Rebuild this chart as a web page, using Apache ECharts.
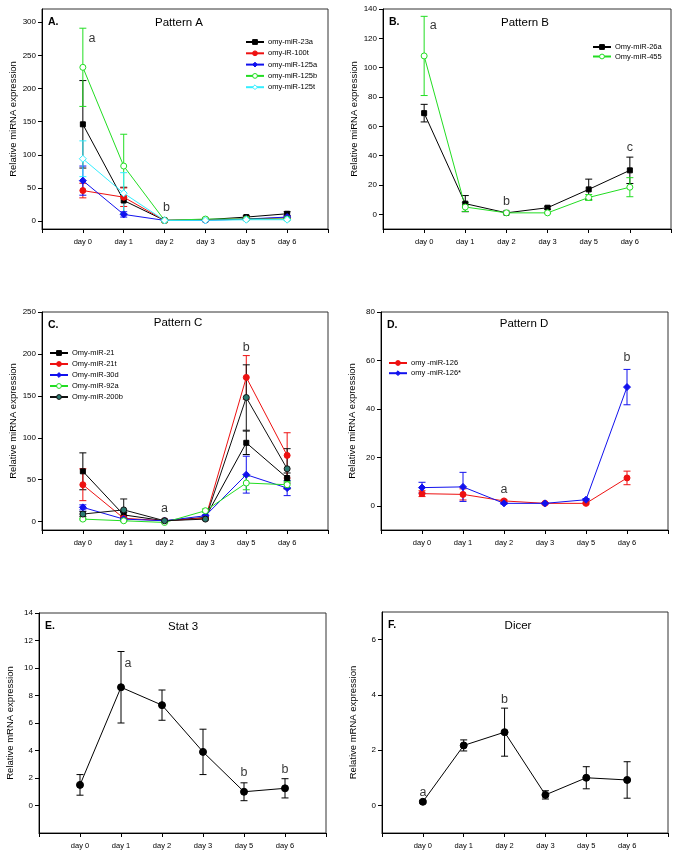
<!DOCTYPE html>
<html>
<head>
<meta charset="utf-8">
<script src="https://cdn.jsdelivr.net/npm/echarts@6/dist/echarts.min.js"></script>
<style>
  html, body { margin: 0; padding: 0; background: #fff; }
  #chart { width: 685px; height: 861px; }
</style>
</head>
<body>
<div id="chart"></div>
<script>
// categories
var days = ['day 0', 'day 1', 'day 2', 'day 3', 'day 5', 'day 6'];

// Pattern A
var a23a = [146, 31, 1, 2, 6, 11];      var a23aErr = [66, 20, 0.5, 0.5, 2, 3];
var a100t = [46, 36, 1, 2, 3, 5];       var a100tErr = [11, 14, 0.5, 0.5, 1, 1];
var a125a = [61, 10, 1, 1, 3, 6];       var a125aErr = [22, 4, 0.5, 0.5, 1, 2];
var a125b = [232, 83, 1, 3, 3, 3];      var a125bErr = [59, 48, 0.5, 1, 1, 1];
var a125t = [94, 42, 1, 1, 2, 2];       var a125tErr = [27, 31, 0.5, 0.5, 1, 1];
var aTicks = [0, 50, 100, 150, 200, 250, 300];
var aNotes = [['day 0', 275, 'a', 9], ['day 2', 21, 'b', 2]];

// Pattern B
var b26a = [69, 7.3, 1, 4.5, 17, 30];   var b26aErr = [6, 5.5, 0.3, 1, 7, 9];
var b455 = [108, 5, 1, 1, 11.5, 18.5];  var b455Err = [27, 3, 0.3, 0.5, 2, 6.5];
var bTicks = [0, 20, 40, 60, 80, 100, 120, 140];
var bNotes = [['day 0', 129, 'a', 9], ['day 2', 8.5, 'b', 0], ['day 6', 45.7, 'c', 0]];

// Pattern C
var c21 = [60, 8, 1, 5, 94, 52];        var c21Err = [22, 3, 0.5, 1, 14, 6];
var c21t = [44, 4, 1, 4, 172, 79];      var c21tErr = [19, 2, 0.5, 1, 26, 27];
var c30d = [17, 3, 1, 7, 56, 40];       var c30dErr = [3, 1, 0.5, 1, 22, 9];
var c92a = [3, 1, -1, 13, 46, 44];      var c92aErr = [1, 1, 0.5, 2, 8, 4];
var c200b = [9, 14, 1, 3, 148, 63];     var c200bErr = [3, 13, 0.5, 1, 39, 24];
var cTicks = [0, 50, 100, 150, 200, 250];
var cNotes = [['day 2', 15.5, 'a', 0], ['day 5', 208, 'b', 0]];

// Pattern D
var d126 = [5, 4.7, 2, 1, 1, 11.5];     var d126Err = [1.2, 2.3, 0.5, 0.3, 0.3, 2.8];
var d126s = [7.5, 7.8, 1, 1, 2.5, 49];  var d126sErr = [2.2, 6, 0.3, 0.3, 0.5, 7.3];
var dTicks = [0, 20, 40, 60, 80];
var dNotes = [['day 2', 6.5, 'a', 0], ['day 6', 61, 'b', 0]];

// Stat 3
var stat3 = [1.5, 8.6, 7.3, 3.9, 1.0, 1.25];  var stat3Err = [0.75, 2.6, 1.1, 1.65, 0.65, 0.7];
var eTicks = [0, 2, 4, 6, 8, 10, 12, 14];
var eNotes = [['day 1', 10.3, 'a', 7], ['day 5', 2.4, 'b', 0], ['day 6', 2.6, 'b', 0]];

// Dicer
var dicer = [0.13, 2.17, 2.65, 0.38, 1.0, 0.92];  var dicerErr = [0.05, 0.2, 0.87, 0.15, 0.4, 0.66];
var fTicks = [0, 2, 4, 6];
var fNotes = [['day 0', 0.48, 'a', 0], ['day 2', 3.84, 'b', 0]];

var FONT = '"Liberation Sans", Arial, Helvetica, sans-serif';
var axisCats = [' '].concat(days).concat(['  ']);

var option = {
    animation: false,
    backgroundColor: '#fff',
    grid: [], xAxis: [], yAxis: [], series: [], legend: [], graphic: []
};

function errRender(params, api) {
    var x = api.value(0);
    var top = api.coord([x, api.value(2)]);
    var bot = api.coord([x, api.value(1)]);
    var w = 3.5;
    var st = { stroke: api.visual('color'), lineWidth: 1 };
    return {
        type: 'group',
        children: [
            { type: 'line', shape: { x1: top[0], y1: top[1], x2: bot[0], y2: bot[1] }, style: st },
            { type: 'line', shape: { x1: top[0] - w, y1: top[1], x2: top[0] + w, y2: top[1] }, style: st },
            { type: 'line', shape: { x1: bot[0] - w, y1: bot[1], x2: bot[0] + w, y2: bot[1] }, style: st }
        ]
    };
}

function addPanel(p) {
    var gi = option.grid.length;
    option.grid.push({
        left: p.box[0], top: p.box[1], width: p.box[2], height: p.box[3],
        show: true, borderColor: '#333', borderWidth: 1, backgroundColor: 'transparent'
    });
    option.xAxis.push({
        type: 'category', gridIndex: gi, data: axisCats, boundaryGap: false,
        axisLine: { onZero: false, lineStyle: { color: '#000', width: 1 } },
        axisTick: { length: 4, lineStyle: { color: '#000' } },
        axisLabel: { interval: 0, color: '#000', fontSize: 7.5, fontFamily: FONT, margin: 9 },
        splitLine: { show: false }
    });
    option.yAxis.push({
        type: 'value', gridIndex: gi, min: p.yMin, max: p.yMax,
        name: p.yName, nameLocation: 'middle', nameRotate: 90, nameGap: 24,
        nameTextStyle: { color: '#000', fontSize: 9.5, fontFamily: FONT },
        axisLine: { show: true, lineStyle: { color: '#000', width: 1 } },
        axisTick: { show: true, length: 4, customValues: p.ticks, lineStyle: { color: '#000' } },
        axisLabel: { color: '#000', fontSize: 8, fontFamily: FONT, margin: 6, customValues: p.ticks },
        splitLine: { show: false }
    });
    p.lines.forEach(function (s) {
        option.series.push({
            type: 'custom', xAxisIndex: gi, yAxisIndex: gi, name: s.name + ' err',
            renderItem: errRender, itemStyle: { color: s.color }, z: 2,
            encode: { x: 0, y: [1, 2] },
            data: days.map(function (d, i) { return [d, s.v[i] - s.e[i], s.v[i] + s.e[i]]; })
        });
    });
    p.lines.forEach(function (s) {
        var item = { color: s.fill || s.color, borderWidth: 1, borderColor: s.border || s.color };
        option.series.push({
            type: 'line', xAxisIndex: gi, yAxisIndex: gi, name: s.name, z: 3,
            symbol: s.symbol, symbolSize: s.size || 6, showAllSymbol: true,
            lineStyle: { color: s.color, width: 1 },
            itemStyle: item,
            data: days.map(function (d, i) { return [d, s.v[i]]; })
        });
    });
    option.series.push({
        type: 'scatter', xAxisIndex: gi, yAxisIndex: gi, symbolSize: 1, silent: true,
        itemStyle: { color: 'transparent' }, z: 5,
        label: {
            show: true, position: 'inside', color: '#000', fontSize: 12.5, fontFamily: FONT,
            formatter: '{b}'
        },
        data: p.notes.map(function (n) {
            return { name: n[2], value: [n[0], n[1]], label: { offset: [n[3], 0] } };
        })
    });
    if (p.legend) {
        option.legend.push({
            data: p.lines.map(function (s) {
                return { name: s.name, itemStyle: { borderWidth: 1 } };
            }),
            orient: 'vertical', left: p.legend[0], top: p.legend[1],
            itemWidth: 18, itemHeight: 6, itemGap: p.legend[2] + 1, padding: 0,
            textStyle: { fontSize: 7.5, fontFamily: FONT, color: '#000', padding: [0, 0, 0, -1] },
            selectedMode: false
        });
    }
    option.graphic.push({
        type: 'text', left: p.box[0] + 6, top: p.box[1] + 8,
        style: { text: p.tag, font: 'bold 10.5px ' + FONT, fill: '#000' }
    });
    option.graphic.push({
        type: 'text', x: p.title[0], y: p.title[1],
        style: { text: p.title[2], font: '11.5px ' + FONT, fill: '#000', textAlign: 'center', textVerticalAlign: 'middle' }
    });
}

addPanel({
    box: [42, 9, 286, 220], yMin: -12, yMax: 320, ticks: aTicks, yName: 'Relative miRNA expression',
    tag: 'A.', title: [179, 23, 'Pattern A'], notes: aNotes, legend: [245, 38, 2.3],
    lines: [
        { name: 'omy-miR-23a', v: a23a, e: a23aErr, color: '#000', symbol: 'rect', size: 5 },
        { name: 'omy-iR-100t', v: a100t, e: a100tErr, color: '#ee1111', symbol: 'circle' },
        { name: 'omy-miR-125a', v: a125a, e: a125aErr, color: '#1111ee', symbol: 'diamond', size: 7 },
        { name: 'omy-miR-125b', v: a125b, e: a125bErr, color: '#22dd22', symbol: 'circle', fill: '#fff' },
        { name: 'omy-miR-125t', v: a125t, e: a125tErr, color: '#33eeff', symbol: 'diamond', size: 7, fill: '#fff' }
    ]
});

addPanel({
    box: [383, 9, 288, 220], yMin: -10, yMax: 140, ticks: bTicks, yName: 'Relative miRNA expression',
    tag: 'B.', title: [525, 23, 'Pattern B'], notes: bNotes, legend: [592, 43, 0.5],
    lines: [
        { name: 'Omy-miR-26a', v: b26a, e: b26aErr, color: '#000', symbol: 'rect', size: 5 },
        { name: 'Omy-miR-455', v: b455, e: b455Err, color: '#22dd22', symbol: 'circle', fill: '#fff' }
    ]
});

addPanel({
    box: [42, 312, 286, 218], yMin: -10, yMax: 250, ticks: cTicks, yName: 'Relative miRNA expression',
    tag: 'C.', title: [178, 323, 'Pattern C'], notes: cNotes, legend: [49, 349, 2],
    lines: [
        { name: 'Omy-miR-21', v: c21, e: c21Err, color: '#000', symbol: 'rect', size: 5 },
        { name: 'Omy-miR-21t', v: c21t, e: c21tErr, color: '#ee1111', symbol: 'circle' },
        { name: 'Omy-miR-30d', v: c30d, e: c30dErr, color: '#1111ee', symbol: 'diamond', size: 7 },
        { name: 'Omy-miR-92a', v: c92a, e: c92aErr, color: '#22dd22', symbol: 'circle', fill: '#fff' },
        { name: 'Omy-miR-200b', v: c200b, e: c200bErr, color: '#111', symbol: 'circle', fill: '#2a7a70', border: '#111' }
    ]
});

addPanel({
    box: [381, 312, 287, 218], yMin: -10, yMax: 80, ticks: dTicks, yName: 'Relative miRNA expression',
    tag: 'D.', title: [524, 324, 'Pattern D'], notes: dNotes, legend: [388, 359, 1.2],
    lines: [
        { name: 'omy -miR-126', v: d126, e: d126Err, color: '#ee1111', symbol: 'circle' },
        { name: 'omy -miR-126*', v: d126s, e: d126sErr, color: '#1111ee', symbol: 'diamond', size: 7 }
    ]
});

addPanel({
    box: [39, 613, 287, 220], yMin: -2, yMax: 14, ticks: eTicks, yName: 'Relative mRNA expression',
    tag: 'E.', title: [183, 627, 'Stat 3'], notes: eNotes,
    lines: [
        { name: 'Stat 3', v: stat3, e: stat3Err, color: '#000', symbol: 'circle', size: 7 }
    ]
});

addPanel({
    box: [382, 612, 286, 221], yMin: -1, yMax: 7, ticks: fTicks, yName: 'Relative mRNA expression',
    tag: 'F.', title: [518, 626, 'Dicer'], notes: fNotes,
    lines: [
        { name: 'Dicer', v: dicer, e: dicerErr, color: '#000', symbol: 'circle', size: 7 }
    ]
});

var chart = echarts.init(document.getElementById('chart'), null, { renderer: 'canvas' });
chart.setOption(option);
</script>
</body>
</html>
